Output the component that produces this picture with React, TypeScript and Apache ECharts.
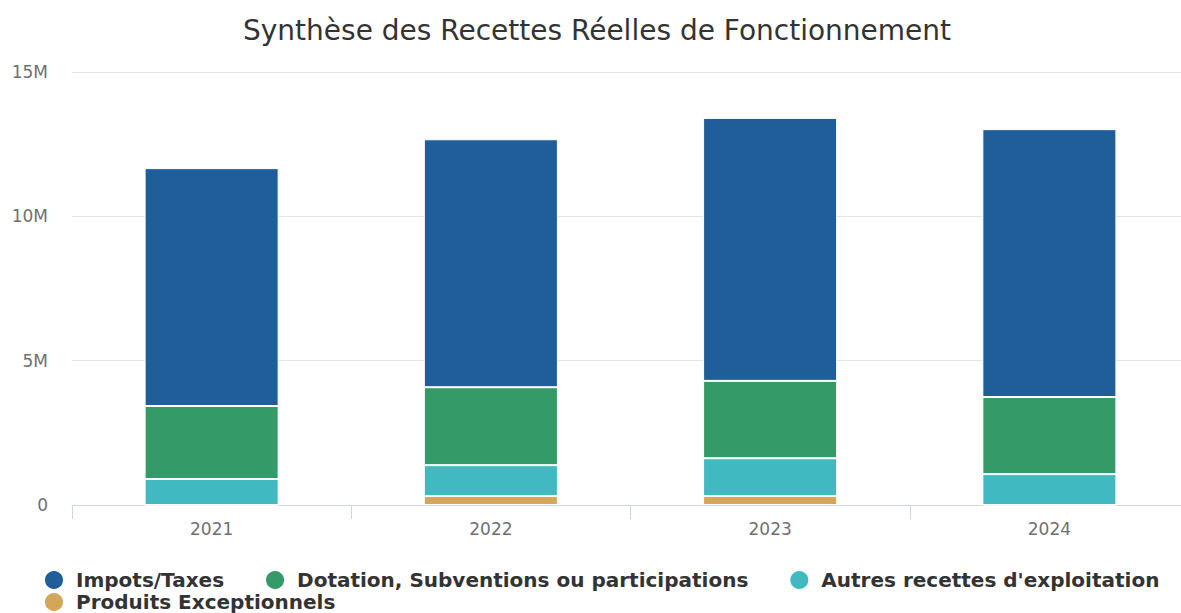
import React, { useEffect, useRef } from "react";
import * as echarts from "echarts";

const years = ["2021", "2022", "2023", "2024"];
const impots = [8.24, 8.59, 9.11, 9.28];
const dotation = [2.53, 2.7, 2.68, 2.67];
const autres = [0.9, 1.07, 1.31, 1.07];
const produits = [0, 0.31, 0.31, 0];
const yTicks = [0, 5, 10, 15];

const M = 1e6;
const FONT = "DejaVu Sans";

export default function App() {
  const ref = useRef<HTMLDivElement>(null);
  useEffect(() => {
    if (!ref.current) return;
    const chart = echarts.init(ref.current, null, { renderer: "svg" });
    const toM = (a: number[]) => a.map((v) => v * M);
    const barBase = {
      type: "bar",
      stack: "total",
      barWidth: "48%",
      itemStyle: { borderColor: "#ffffff", borderWidth: 1 },
    };
    const legendText = {
      fontFamily: FONT,
      fontWeight: "bold",
      fontSize: 20,
      color: "#333333",
      padding: [0, 0, 0, 7],
    };
    chart.setOption({
      animation: false,
      textStyle: { fontFamily: FONT },
      title: {
        text: "Synthèse des Recettes Réelles de Fonctionnement",
        left: "center",
        top: 11,
        textStyle: { fontFamily: FONT, fontSize: 28, fontWeight: "normal", color: "#333333" },
      },
      legend: [
        {
          data: ["Impots/Taxes", "Dotation, Subventions ou participations", "Autres recettes d'exploitation"],
          left: 38,
          top: 564,
          icon: "circle",
          itemWidth: 20,
          itemHeight: 20,
          itemGap: 40,
          textStyle: legendText,
        },
        {
          data: ["Produits Exceptionnels"],
          left: 38,
          top: 586,
          icon: "circle",
          itemWidth: 20,
          itemHeight: 20,
          textStyle: legendText,
        },
      ],
      grid: { left: 72, right: 5, top: 72, bottom: 108, containLabel: false },
      xAxis: {
        type: "category",
        data: years,
        boundaryGap: true,
        axisLine: { lineStyle: { color: "#ccd6eb" } },
        axisTick: { show: true, length: 14, lineStyle: { color: "#ccd6eb" } },
        axisLabel: { color: "#707070", fontSize: 17, margin: 15, fontFamily: FONT },
      },
      yAxis: {
        type: "value",
        min: yTicks[0] * M,
        max: yTicks[yTicks.length - 1] * M,
        interval: 5 * M,
        axisLine: { show: false },
        axisTick: { show: false },
        splitLine: { lineStyle: { color: "#e6e6e6" } },
        axisLabel: {
          color: "#707070",
          fontSize: 17,
          margin: 24,
          fontFamily: FONT,
          formatter: (v: number) => (v === 0 ? "0" : v / M + "M"),
        },
      },
      series: [
        { ...barBase, name: "Produits Exceptionnels", data: toM(produits), itemStyle: { ...barBase.itemStyle, color: "#d4a65a" } },
        { ...barBase, name: "Autres recettes d'exploitation", data: toM(autres), itemStyle: { ...barBase.itemStyle, color: "#41b9c1" } },
        { ...barBase, name: "Dotation, Subventions ou participations", data: toM(dotation), itemStyle: { ...barBase.itemStyle, color: "#349a68" } },
        { ...barBase, name: "Impots/Taxes", data: toM(impots), itemStyle: { ...barBase.itemStyle, color: "#1f5e99" } },
      ],
    });
    return () => chart.dispose();
  }, []);
  return (
    <div style={{ position: "fixed", left: 0, top: 0, width: 1181, height: 613, overflow: "hidden", background: "#fff" }}>
      <div ref={ref} style={{ width: 1194, height: 613 }} />
    </div>
  );
}
